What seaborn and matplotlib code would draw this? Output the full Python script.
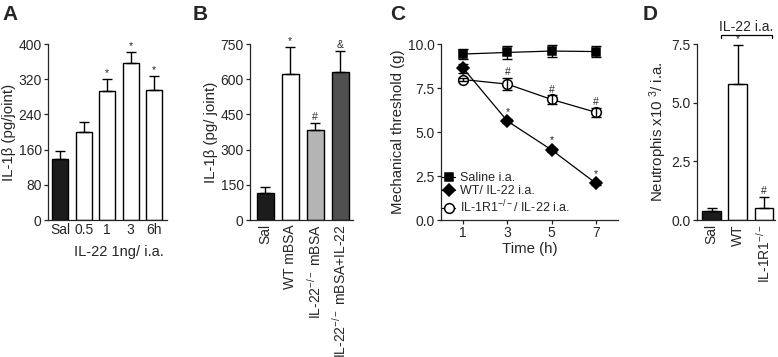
import numpy as np
import pandas as pd
import matplotlib
matplotlib.use("Agg")
import matplotlib.pyplot as plt
import seaborn as sns

# --- Data ---
# A: IL-1b after IL-22 i.a. over time
a_labels = ["Sal", "0.5", "1", "3", "6h"]
a_vals = [139, 200, 293, 357, 296]
a_err = [17, 23, 27, 24, 32]
a_marks = ["", "", "*", "*", "*"]

# B: IL-1b in mBSA arthritis
b_labels = ["Sal", "WT mBSA", "IL-22$^{-/-}$ mBSA", "IL-22$^{-/-}$ mBSA+IL-22"]
b_vals = [117, 621, 383, 629]
b_err = [24, 115, 31, 90]
b_marks = ["", "*", "#", "&"]

# C: mechanical threshold time course
c_time = [1, 3, 5, 7]
c_saline = [9.43, 9.52, 9.60, 9.57]
c_saline_err = [0.30, 0.38, 0.32, 0.33]
c_wt = [8.63, 5.62, 3.98, 2.09]
c_wt_err = [0.25, 0.10, 0.10, 0.10]
c_ko = [7.98, 7.72, 6.85, 6.12]
c_ko_err = [0.10, 0.36, 0.26, 0.27]
c_wt_marks = ["", "*", "*", "*"]
c_ko_marks = ["", "#", "#", "#"]

# D: neutrophil counts
d_labels = ["Sal", "WT", "IL-1R1$^{-/-}$"]
d_vals = [0.39, 5.81, 0.53]
d_err = [0.14, 1.65, 0.46]
d_marks = ["", "*", "#"]

sns.set_style("ticks")
plt.rcParams["font.family"] = ["Liberation Sans", "DejaVu Sans"]
plt.rcParams["mathtext.fontset"] = "custom"
plt.rcParams["mathtext.rm"] = "Liberation Sans"
plt.rcParams["mathtext.it"] = "Liberation Sans:italic"
plt.rcParams["axes.linewidth"] = 0.9
plt.rcParams["xtick.major.width"] = 0.9
plt.rcParams["ytick.major.width"] = 0.9

W, H = 778, 357
fig = plt.figure(figsize=(W / 100, H / 100), dpi=100)

FS = 10      # tick labels
LFS = 10.8   # axis labels


def px_axes(x0, x1, ytop=44, ybot=220):
    return fig.add_axes([x0 / W, 1 - ybot / H, (x1 - x0) / W, (ybot - ytop) / H])


def style(ax):
    sns.despine(ax=ax)
    ax.tick_params(axis="both", labelsize=FS, length=3, pad=1.5)


def bars(ax, labels, vals, errs, colors, width, marks, mark_off):
    df = pd.DataFrame({"g": labels, "v": vals})
    sns.barplot(data=df, x="g", y="v", hue="g", palette=dict(zip(labels, colors)),
                legend=False, width=width, edgecolor="black", linewidth=1.0,
                errorbar=None, ax=ax, saturation=1)
    x = np.arange(len(vals))
    ax.errorbar(x, vals, yerr=[np.zeros(len(vals)), errs], fmt="none",
                ecolor="black", elinewidth=1.0, capsize=3.5, capthick=1.0)
    for xi, v, e, m in zip(x, vals, errs, marks):
        if m:
            ax.text(xi, v + e + mark_off, m, ha="center", va="bottom", fontsize=7.5)
    ax.set_xlabel("")
    ax.tick_params(axis="x", length=0)


# ---- A ----
axA = px_axes(48, 167)
bars(axA, a_labels, a_vals, a_err, ["#1c1c1c"] + ["white"] * 4, 0.68, a_marks, 2)
axA.set_ylim(0, 400)
axA.set_yticks([0, 80, 160, 240, 320, 400])
axA.set_xlim(-0.52, 4.55)
axA.set_ylabel("IL-1β (pg/joint)", fontsize=LFS, labelpad=2)
style(axA)
axA.tick_params(axis="x", length=0, pad=2)
axA.annotate("", xy=(73 / W, 1 - 240 / H), xytext=(165 / W, 1 - 240 / H),
             xycoords="figure fraction", arrowprops=dict(arrowstyle="-", lw=0.9))
fig.text(119 / W, 1 - 252 / H, "IL-22 1ng/ i.a.", ha="center", va="center", fontsize=10.5)

# ---- B ----
axB = px_axes(250, 353)
bars(axB, b_labels, b_vals, b_err, ["#1c1c1c", "white", "#b4b4b4", "#505050"],
     0.68, b_marks, 4)
axB.set_ylim(0, 750)
axB.set_yticks([0, 150, 300, 450, 600, 750])
axB.set_xlim(-0.62, 3.52)
axB.set_ylabel("IL-1β (pg/ joint)", fontsize=LFS, labelpad=2)
style(axB)
axB.tick_params(axis="x", length=0, pad=3)
for t in axB.get_xticklabels():
    t.set_rotation(90)

# ---- C ----
axC = px_axes(441, 618)
series = [
    ("Saline i.a.", c_saline, c_saline_err, "s", "black", 6.0),
    ("WT/ IL-22 i.a.", c_wt, c_wt_err, "D", "black", 6.0),
    ("IL-1R1$^{-/-}$/ IL-22 i.a.", c_ko, c_ko_err, "o", "white", 7.0),
]
for name, vals, errs, mk, fc, ms in series:
    sns.lineplot(x=c_time, y=vals, ax=axC, color="black", lw=0.9, marker=mk,
                 markersize=ms, markerfacecolor=fc, markeredgecolor="black",
                 markeredgewidth=1.1, label=name, zorder=3)
    axC.errorbar(c_time, vals, yerr=errs, fmt="none", ecolor="black",
                 elinewidth=1.0, capsize=3.5, capthick=1.0, zorder=4)
for t, v, e, m in zip(c_time, c_wt, c_wt_err, c_wt_marks):
    if m:
        axC.text(t, v + 0.25, m, ha="center", va="bottom", fontsize=7.5)
for t, v, e, m in zip(c_time, c_ko, c_ko_err, c_ko_marks):
    if m:
        axC.text(t, v + e + 0.02, m, ha="center", va="bottom", fontsize=7.5)
axC.set_xlim(0, 8)
axC.set_ylim(0, 10)
axC.set_xticks(c_time)
axC.set_yticks([0, 2.5, 5.0, 7.5, 10.0])
axC.set_yticklabels(["0.0", "2.5", "5.0", "7.5", "10.0"])
axC.set_xlabel("Time (h)", fontsize=LFS, labelpad=1)
axC.set_ylabel("Mechanical threshold (g)", fontsize=LFS, labelpad=2)
style(axC)
axC.legend(loc="lower left", frameon=False, fontsize=9, handlelength=1.0,
           handletextpad=0.4, labelspacing=0.1, borderaxespad=0.0,
           bbox_to_anchor=(-0.02, 0.0))

# ---- D ----
axD = px_axes(697, 775)
bars(axD, d_labels, d_vals, d_err, ["#1c1c1c", "white", "white"], 0.72, d_marks, 0.05)
axD.set_ylim(0, 7.5)
axD.set_yticks([0, 2.5, 5.0, 7.5])
axD.set_yticklabels(["0.0", "2.5", "5.0", "7.5"])
axD.set_xlim(-0.56, 2.42)
axD.set_ylabel("Neutrophis x10 $^{3}$/ i.a.", fontsize=LFS, labelpad=2)
style(axD)
axD.tick_params(axis="x", length=0, pad=3)
for t in axD.get_xticklabels():
    t.set_rotation(90)
# bracket over IL-22 groups
bx0, bx1, by = 721 / W, 772 / W, 1 - 35 / H
fig.add_artist(plt.Line2D([bx0, bx0, bx1, bx1], [by - 3 / H, by, by, by - 3 / H],
                          color="black", lw=0.9))
fig.text((bx0 + bx1) / 2, 1 - 27 / H, "IL-22 i.a.", ha="center", va="center", fontsize=10)

# panel letters
for lab, xp in [("A", 2), ("B", 193), ("C", 390), ("D", 643)]:
    fig.text(xp / W, 1 - 5 / H, lab, ha="left", va="top", fontsize=15, fontweight="bold")

fig.savefig("out.png", dpi=100)
